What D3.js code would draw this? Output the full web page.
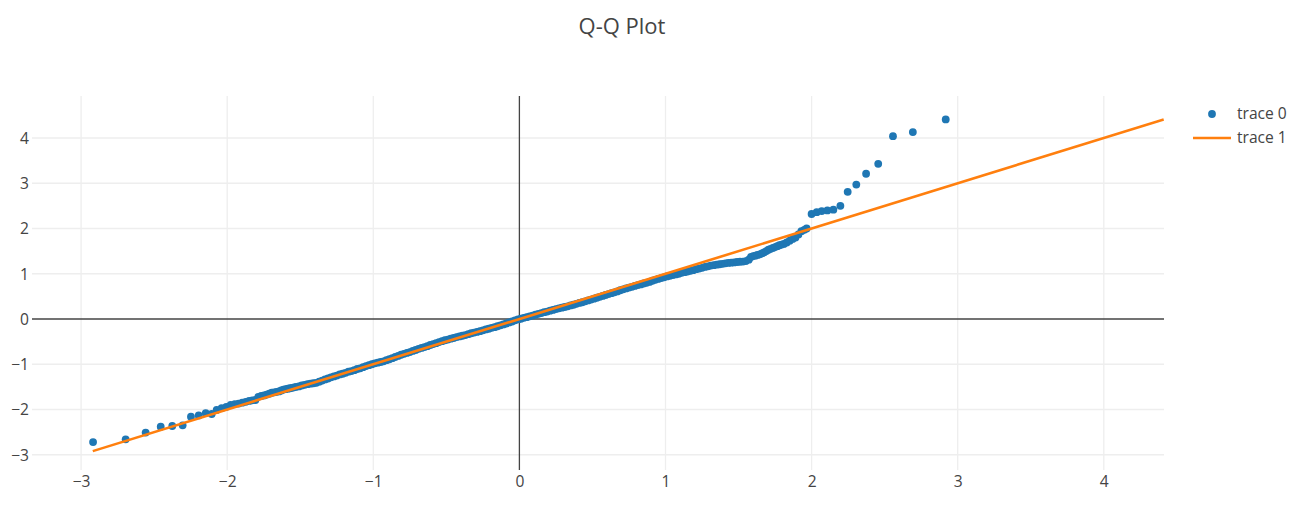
<!DOCTYPE html>
<html>
<head>
<meta charset="utf-8">
<script src="https://cdn.jsdelivr.net/npm/d3@7/dist/d3.min.js"></script>
<style>
  html, body { margin: 0; padding: 0; background: #fff; }
  svg { display: block; font-family: "Open Sans", verdana, arial, sans-serif; }
</style>
</head>
<body>
<svg id="chart" width="1302" height="510"></svg>
<script>
// ---- data ----
const titleText = "Q-Q Plot";
const seriesNames = ["trace 0", "trace 1"];
const xTicks = [-3, -2, -1, 0, 1, 2, 3, 4];
const yTicks = [-3, -2, -1, 0, 1, 2, 3, 4];

// trace 0: theoretical quantiles (x) and ordered sample values (y)
const theoretical = [
  -2.918, -2.695, -2.558, -2.455, -2.376, -2.305, -2.248, -2.195, -2.147, -2.106,
  -2.072, -2.038, -2.006, -1.976, -1.948, -1.922, -1.897, -1.873, -1.850, -1.828,
  -1.807, -1.787, -1.767, -1.748, -1.730, -1.712, -1.695, -1.678, -1.662, -1.646,
  -1.630, -1.615, -1.600, -1.585, -1.570, -1.556, -1.542, -1.528,
  -1.51, -1.49, -1.47, -1.45, -1.43, -1.41, -1.39, -1.37, -1.35, -1.33,
  -1.31, -1.29, -1.27, -1.25, -1.23, -1.21, -1.19, -1.17, -1.15, -1.13,
  -1.11, -1.09, -1.07, -1.05, -1.03, -1.01, -0.99, -0.97, -0.95, -0.93,
  -0.91, -0.89, -0.87, -0.85, -0.83, -0.81, -0.79, -0.77, -0.75, -0.73,
  -0.71, -0.69, -0.67, -0.65, -0.63, -0.61, -0.59, -0.57, -0.55, -0.53,
  -0.51, -0.49, -0.47, -0.45, -0.43, -0.41, -0.39, -0.37, -0.35, -0.33,
  -0.31, -0.29, -0.27, -0.25, -0.23, -0.21, -0.19, -0.17, -0.15, -0.13,
  -0.11, -0.09, -0.07, -0.05, -0.03, -0.01, 0.01, 0.03, 0.05, 0.07,
  0.09, 0.11, 0.13, 0.15, 0.17, 0.19, 0.21, 0.23, 0.25, 0.27,
  0.29, 0.31, 0.33, 0.35, 0.37, 0.39, 0.41, 0.43, 0.45, 0.47,
  0.49, 0.51, 0.53, 0.55, 0.57, 0.59, 0.61, 0.63, 0.65, 0.67,
  0.69, 0.71, 0.73, 0.75, 0.77, 0.79, 0.81, 0.83, 0.85, 0.87,
  0.89, 0.91, 0.93, 0.95, 0.97, 0.99, 1.01, 1.03, 1.05, 1.07,
  1.09, 1.11, 1.13, 1.15, 1.17, 1.19, 1.21, 1.23, 1.25, 1.27,
  1.29, 1.31, 1.33, 1.35, 1.37, 1.39, 1.41, 1.43, 1.45, 1.47,
  1.49, 1.51, 1.53, 1.55, 1.57, 1.585, 1.60, 1.615, 1.63, 1.645,
  1.66, 1.675, 1.69, 1.705, 1.72, 1.735, 1.75, 1.765, 1.78, 1.795,
  1.81, 1.83, 1.85, 1.87, 1.89, 1.91, 1.93, 1.95, 1.966,
  2.000, 2.035, 2.069, 2.108, 2.149, 2.197, 2.247, 2.306, 2.373, 2.456,
  2.557, 2.693, 2.918
];
const sample = [
  -2.72, -2.66, -2.51, -2.38, -2.365, -2.35, -2.16, -2.13, -2.08, -2.10,
  -2.01, -1.97, -1.94, -1.90, -1.88, -1.87, -1.85, -1.83, -1.81, -1.80,
  -1.79, -1.72, -1.70, -1.69, -1.67, -1.65, -1.63, -1.62, -1.61, -1.60,
  -1.58, -1.56, -1.55, -1.54, -1.53, -1.52, -1.51, -1.50,
  -1.49, -1.47, -1.455, -1.44, -1.43, -1.42, -1.41, -1.385, -1.36, -1.335,
  -1.315, -1.29, -1.27, -1.25, -1.225, -1.21, -1.19, -1.165, -1.15, -1.13,
  -1.105, -1.09, -1.065, -1.04, -1.02, -1.0, -0.98, -0.965, -0.95, -0.935,
  -0.91, -0.89, -0.865, -0.84, -0.815, -0.79, -0.77, -0.75, -0.73, -0.705,
  -0.685, -0.66, -0.64, -0.62, -0.60, -0.575, -0.555, -0.535, -0.51, -0.49,
  -0.47, -0.455, -0.435, -0.42, -0.40, -0.385, -0.37, -0.355, -0.335, -0.315,
  -0.30, -0.285, -0.27, -0.25, -0.23, -0.215, -0.195, -0.18, -0.16, -0.14,
  -0.12, -0.10, -0.075, -0.055, -0.03, -0.01, 0.005, 0.025, 0.04, 0.06,
  0.075, 0.095, 0.115, 0.13, 0.15, 0.165, 0.185, 0.20, 0.22, 0.235,
  0.25, 0.265, 0.28, 0.30, 0.315, 0.335, 0.355, 0.37, 0.39, 0.41,
  0.43, 0.45, 0.47, 0.49, 0.51, 0.53, 0.55, 0.57, 0.59, 0.61,
  0.635, 0.655, 0.675, 0.695, 0.71, 0.73, 0.75, 0.765, 0.785, 0.80,
  0.82, 0.845, 0.865, 0.885, 0.905, 0.92, 0.94, 0.955, 0.97, 0.985,
  1.0, 1.02, 1.035, 1.05, 1.065, 1.08, 1.10, 1.115, 1.13, 1.15,
  1.165, 1.18, 1.19, 1.20, 1.21, 1.22, 1.23, 1.24, 1.245, 1.25,
  1.26, 1.265, 1.27, 1.28, 1.31, 1.37, 1.39, 1.40, 1.415, 1.43,
  1.45, 1.47, 1.50, 1.53, 1.55, 1.57, 1.59, 1.61, 1.63, 1.645,
  1.66, 1.69, 1.73, 1.77, 1.80, 1.87, 1.94, 1.97, 2.00,
  2.32, 2.36, 2.385, 2.40, 2.415, 2.50, 2.81, 2.97, 3.21, 3.43,
  4.04, 4.13, 4.41
];
// trace 1: reference line
const lineX = [-2.92, 4.41];
const lineY = [-2.92, 4.41];

// ---- layout ----
const W = 1302, H = 510;
const plot = { left: 32, right: 1164, top: 96, bottom: 470 };
const fontSize = 15.6;
const textColor = "#444";

const svg = d3.select("#chart");

const x = d3.scaleLinear().domain([-3.336, 4.412]).range([plot.left, plot.right]);
const y = d3.scaleLinear().domain([-3.337, 4.928]).range([plot.bottom, plot.top]);

// gridlines
const grid = svg.append("g");
grid.selectAll("line.vx").data(xTicks.filter(d => d !== 0)).join("line")
  .attr("x1", d => x(d)).attr("x2", d => x(d))
  .attr("y1", plot.top).attr("y2", plot.bottom)
  .attr("stroke", "#eee").attr("stroke-width", 1.3);
grid.selectAll("line.hy").data(yTicks.filter(d => d !== 0)).join("line")
  .attr("y1", d => y(d)).attr("y2", d => y(d))
  .attr("x1", plot.left).attr("x2", plot.right)
  .attr("stroke", "#eee").attr("stroke-width", 1.3);

// zero lines
svg.append("line")
  .attr("x1", x(0)).attr("x2", x(0)).attr("y1", plot.top).attr("y2", plot.bottom)
  .attr("stroke", "#444").attr("stroke-width", 1.3);
svg.append("line")
  .attr("y1", y(0)).attr("y2", y(0)).attr("x1", plot.left).attr("x2", plot.right)
  .attr("stroke", "#444").attr("stroke-width", 1.3);

// axes (labels only)
const fmt = d3.format("d");
const xAxis = svg.append("g")
  .attr("transform", `translate(0,${plot.bottom})`)
  .call(d3.axisBottom(x).tickValues(xTicks).tickSize(0).tickPadding(0).tickFormat(fmt));
xAxis.select(".domain").remove();
xAxis.selectAll("text")
  .attr("y", 17).attr("dy", 0)
  .attr("fill", textColor)
  .style("font-size", fontSize + "px")
  .style("font-family", '"Open Sans", verdana, arial, sans-serif');

const yAxis = svg.append("g")
  .attr("transform", `translate(${plot.left},0)`)
  .call(d3.axisLeft(y).tickValues(yTicks).tickSize(0).tickPadding(0).tickFormat(fmt));
yAxis.select(".domain").remove();
yAxis.selectAll("text")
  .attr("x", -3).attr("dy", "0.35em")
  .attr("fill", textColor)
  .style("font-size", fontSize + "px")
  .style("font-family", '"Open Sans", verdana, arial, sans-serif');

// clip
svg.append("clipPath").attr("id", "clip")
  .append("rect").attr("x", plot.left).attr("y", plot.top)
  .attr("width", plot.right - plot.left).attr("height", plot.bottom - plot.top);

const pts = theoretical.map((t, i) => ({ t, s: sample[i] }));

svg.append("g")
  .selectAll("circle").data(pts).join("circle")
  .attr("cx", d => x(d.t)).attr("cy", d => y(d.s))
  .attr("r", 3.9)
  .attr("fill", "#1f77b4");

const lineData = lineX.map((v, i) => [v, lineY[i]]);
svg.append("path")
  .datum(lineData)
  .attr("clip-path", "url(#clip)")
  .attr("fill", "none")
  .attr("stroke", "#ff7f0e")
  .attr("stroke-width", 2.6)
  .attr("d", d3.line().x(d => x(d[0])).y(d => y(d[1])));

// title
svg.append("text")
  .attr("x", 622).attr("y", 34)
  .attr("text-anchor", "middle")
  .attr("fill", textColor)
  .style("font-size", "22px")
  .text(titleText);

// legend
const legend = svg.append("g");
legend.append("circle").attr("cx", 1212).attr("cy", 114).attr("r", 3.9).attr("fill", "#1f77b4");
legend.append("line").attr("x1", 1193).attr("x2", 1231).attr("y1", 138).attr("y2", 138)
  .attr("stroke", "#ff7f0e").attr("stroke-width", 2.6);
legend.selectAll("text").data(seriesNames).join("text")
  .attr("x", 1237).attr("y", (d, i) => 114 + i * 24)
  .attr("dy", "0.35em")
  .attr("fill", textColor)
  .style("font-size", fontSize + "px")
  .text(d => d);
</script>
</body>
</html>
